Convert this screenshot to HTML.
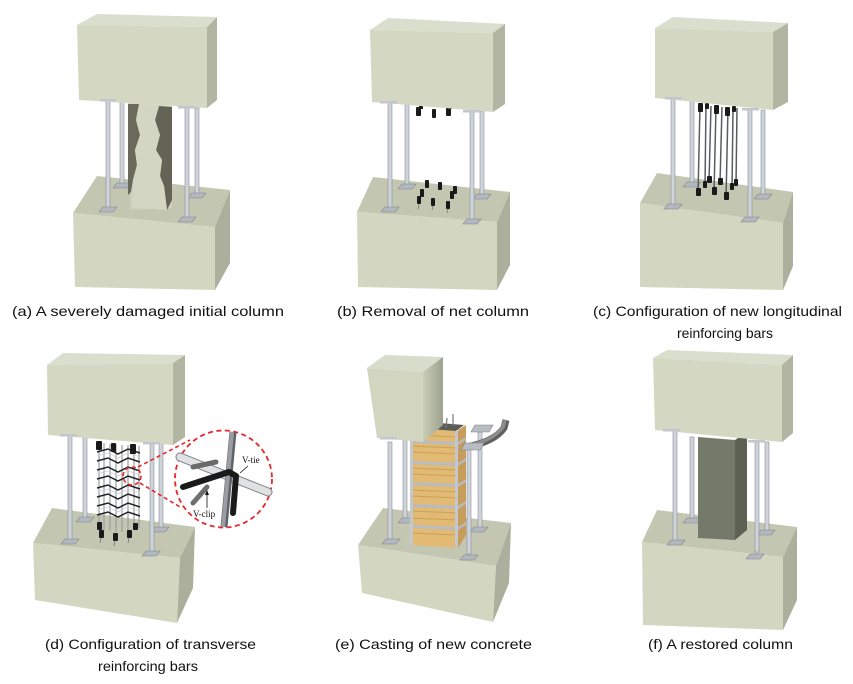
<!DOCTYPE html>
<html><head><meta charset="utf-8"><style>
html,body{margin:0;padding:0;background:#fff;}
svg{display:block;}
text{font-family:"Liberation Sans",Arial,sans-serif;}
</style></head><body>
<svg width="853" height="684" viewBox="0 0 853 684" xmlns="http://www.w3.org/2000/svg">
<defs>
<g id="pl"><polygon points="-9,3 -5,-2 9,-2 5,3" fill="#b3b7bf" stroke="#7d8189" stroke-width="0.6"/></g>
<linearGradient id="cyl" x1="0" y1="0" x2="1" y2="0"><stop offset="0" stop-color="#c9cdb8"/><stop offset="1" stop-color="#9da290"/></linearGradient>
</defs>
<rect width="853" height="684" fill="#fff"/>

<!-- ================= PANEL A ================= -->
<polygon points="73,213 97,176 230,190 215,227" fill="#c3c7b1"/>
<polygon points="73,213 215,227 215,290 75,287" fill="#d3d7c2"/>
<polygon points="215,227 230,190 230,263 215,290" fill="#abaf9b"/>
<rect x="120" y="102" width="4" height="82" fill="#cfd3da" stroke="#8b8f97" stroke-width="0.6"/>
<use href="#pl" x="122" y="185"/>
<rect x="195" y="108" width="4" height="86" fill="#cfd3da" stroke="#8b8f97" stroke-width="0.6"/>
<use href="#pl" x="197" y="195"/>
<polygon points="128,103 172,106 172,208 130,210" fill="#cdd1bc"/>
<polygon points="128,104 139,104 136,120 140,135 135,150 137,165 133,180 131,192 128,195" fill="#6a6a5c"/>
<polygon points="159,106 172,107 172,200 167,210 164,186 160,176 162,160 156,150 160,135 155,120" fill="#646456"/>
<polygon points="139,104 159,106 155,120 160,135 156,150 162,160 160,176 164,186 167,210 132,208 133,180 137,165 135,150 140,135 136,120" fill="#d2d6c2"/>
<rect x="106" y="100" width="4" height="108" fill="#cfd3da" stroke="#8b8f97" stroke-width="0.6"/>
<use href="#pl" x="108" y="209"/>
<rect x="185" y="108" width="4" height="110" fill="#cfd3da" stroke="#8b8f97" stroke-width="0.6"/>
<use href="#pl" x="187" y="219"/>
<polygon points="77,25 97,14 217,17 207,27" fill="#dadecd"/>
<polygon points="77,25 207,27 207,108 79,100" fill="#d4d8c3"/>
<polygon points="207,27 217,17 217,100 207,108" fill="#b1b5a1"/>
<rect x="100" y="99" width="16" height="2.5" fill="#c2c6ce"/>
<rect x="178" y="106" width="17" height="2.5" fill="#c2c6ce"/>

<!-- ================= PANEL B ================= -->
<polygon points="357,212 373,177 510,192 497,222" fill="#c3c7b1"/>
<polygon points="357,212 497,222 497,290 358,287" fill="#d3d7c2"/>
<polygon points="497,222 510,192 510,265 497,290" fill="#abaf9b"/>
<rect x="405" y="104" width="4" height="81" fill="#cfd3da" stroke="#8b8f97" stroke-width="0.6"/>
<use href="#pl" x="407" y="186"/>
<rect x="480" y="111" width="4" height="84" fill="#cfd3da" stroke="#8b8f97" stroke-width="0.6"/>
<use href="#pl" x="482" y="196"/>
<g fill="#1a1a1a">
<rect x="425" y="180" width="4" height="8" rx="1"/>
<rect x="438" y="182" width="4" height="8" rx="1"/>
<rect x="453" y="186" width="4" height="8" rx="1"/>
<rect x="420" y="189" width="4" height="8" rx="1"/>
<rect x="450" y="191" width="4" height="8" rx="1"/>
<rect x="417" y="196" width="4" height="8" rx="1"/>
<rect x="431" y="198" width="4" height="8" rx="1"/>
<rect x="446" y="201" width="4" height="8" rx="1"/>
</g>
<g stroke="#777" stroke-width="0.8">
<line x1="419" y1="204" x2="418" y2="209"/><line x1="433" y1="206" x2="432" y2="210"/><line x1="448" y1="209" x2="447" y2="213"/>
</g>
<g fill="#1a1a1a">
<rect x="416" y="107" width="5" height="9" rx="1"/><rect x="419" y="106" width="4" height="3"/>
<rect x="432" y="109" width="4" height="9" rx="1"/>
<rect x="446" y="107" width="5" height="9" rx="1"/><rect x="448" y="106" width="4" height="3"/>
</g>
<rect x="388" y="102" width="4" height="106" fill="#cfd3da" stroke="#8b8f97" stroke-width="0.6"/>
<use href="#pl" x="390" y="209"/>
<rect x="470" y="111" width="4" height="109" fill="#cfd3da" stroke="#8b8f97" stroke-width="0.6"/>
<use href="#pl" x="472" y="221"/>
<polygon points="370,30 388,18 505,24 493,33" fill="#dadecd"/>
<polygon points="370,30 493,33 493,112 372,102" fill="#d4d8c3"/>
<polygon points="493,33 505,24 505,104 493,112" fill="#b1b5a1"/>
<rect x="380" y="101" width="17" height="2.5" fill="#c2c6ce"/>
<rect x="463" y="110" width="17" height="2.5" fill="#c2c6ce"/>

<!-- ================= PANEL C ================= -->
<polygon points="640,203 657,173 793,192 783,223" fill="#c3c7b1"/>
<polygon points="640,203 783,223 783,290 640,287" fill="#d3d7c2"/>
<polygon points="783,223 793,192 793,266 783,290" fill="#abaf9b"/>
<rect x="690" y="100" width="4" height="83" fill="#cfd3da" stroke="#8b8f97" stroke-width="0.6"/>
<use href="#pl" x="692" y="184"/>
<rect x="761" y="110" width="4" height="85" fill="#cfd3da" stroke="#8b8f97" stroke-width="0.6"/>
<use href="#pl" x="763" y="196"/>
<g stroke="#5a5d60" stroke-width="1.5">
<line x1="700" y1="104" x2="698" y2="196"/>
<line x1="706" y1="104" x2="705" y2="188"/>
<line x1="711" y1="106" x2="709" y2="182"/>
<line x1="716" y1="107" x2="714" y2="194"/>
<line x1="722" y1="107" x2="720" y2="183"/>
<line x1="728" y1="108" x2="726" y2="199"/>
<line x1="733" y1="109" x2="732" y2="190"/>
<line x1="737" y1="108" x2="736" y2="186"/>
</g>
<g fill="#1a1a1a">
<rect x="698" y="103" width="5" height="9" rx="1"/>
<rect x="705" y="103" width="4" height="6" rx="1"/>
<rect x="714" y="105" width="5" height="9" rx="1"/>
<rect x="725" y="107" width="5" height="9" rx="1"/>
<rect x="732" y="106" width="4" height="6" rx="1"/>
<rect x="696" y="188" width="5" height="8" rx="1"/>
<rect x="703" y="181" width="4" height="7" rx="1"/>
<rect x="707" y="176" width="5" height="7" rx="1"/>
<rect x="712" y="187" width="5" height="8" rx="1"/>
<rect x="718" y="178" width="5" height="7" rx="1"/>
<rect x="724" y="192" width="5" height="8" rx="1"/>
<rect x="730" y="183" width="4" height="7" rx="1"/>
<rect x="734" y="179" width="4" height="7" rx="1"/>
</g>
<rect x="671" y="98" width="4" height="107" fill="#cfd3da" stroke="#8b8f97" stroke-width="0.6"/>
<use href="#pl" x="673" y="206"/>
<rect x="748" y="110" width="4" height="108" fill="#cfd3da" stroke="#8b8f97" stroke-width="0.6"/>
<use href="#pl" x="750" y="219"/>
<polygon points="655,28 673,17 788,23 773,32" fill="#dadecd"/>
<polygon points="655,28 773,32 773,110 655,98" fill="#d4d8c3"/>
<polygon points="773,32 788,23 788,102 773,110" fill="#b1b5a1"/>
<rect x="665" y="97" width="17" height="2.5" fill="#c2c6ce"/>
<rect x="742" y="108" width="17" height="2.5" fill="#c2c6ce"/>

<!-- ================= PANEL D ================= -->
<polygon points="33,543 52,508 195,527 180,558" fill="#c3c7b1"/>
<polygon points="33,543 180,558 177,623 35,600" fill="#d3d7c2"/>
<polygon points="180,558 195,527 193,588 177,623" fill="#abaf9b"/>
<rect x="83" y="437" width="4" height="81" fill="#cfd3da" stroke="#8b8f97" stroke-width="0.6"/>
<use href="#pl" x="85" y="519"/>
<rect x="159" y="443" width="4" height="85" fill="#cfd3da" stroke="#8b8f97" stroke-width="0.6"/>
<use href="#pl" x="160" y="529"/>
<g stroke="#9a9ca0" stroke-width="1.2">
<line x1="99" y1="442" x2="99" y2="528"/><line x1="104" y1="443" x2="104" y2="530"/>
<line x1="110" y1="444" x2="110" y2="531"/><line x1="116" y1="444" x2="116" y2="532"/>
<line x1="122" y1="445" x2="122" y2="532"/><line x1="128" y1="445" x2="128" y2="531"/>
<line x1="134" y1="446" x2="134" y2="530"/><line x1="139" y1="446" x2="139" y2="528"/>
</g>
<g stroke="#222" stroke-width="1.5" fill="none">
<polyline points="97,452 108,449 118,454 128,449 140,453"/>
<polyline points="97,461 108,458 118,463 128,458 140,462"/>
<polyline points="97,470 108,467 118,472 128,467 140,471"/>
<polyline points="97,479 108,476 118,481 128,476 140,480"/>
<polyline points="97,488 108,485 118,490 128,485 140,489"/>
<polyline points="97,497 108,494 118,499 128,494 140,498"/>
<polyline points="97,506 108,503 118,508 128,503 140,507"/>
<polyline points="97,515 108,512 118,517 128,512 140,516"/>
</g>
<g stroke="#cfd1d4" stroke-width="0.8" fill="none">
<polyline points="97,456 108,453 118,458 128,453 140,457"/>
<polyline points="97,474 108,471 118,476 128,471 140,475"/>
<polyline points="97,492 108,489 118,494 128,489 140,493"/>
<polyline points="97,510 108,507 118,512 128,507 140,511"/>
</g>
<g fill="#1a1a1a">
<rect x="96" y="441" width="6" height="9" rx="1"/>
<rect x="111" y="443" width="5" height="9" rx="1"/>
<rect x="130" y="444" width="6" height="10" rx="1"/>
<rect x="97" y="522" width="5" height="8" rx="1"/>
<rect x="99" y="530" width="5" height="8" rx="1"/>
<rect x="113" y="533" width="5" height="8" rx="1"/>
<rect x="127" y="530" width="5" height="8" rx="1"/>
<rect x="133" y="523" width="5" height="7" rx="1"/>
</g>
<g stroke="#777" stroke-width="0.8">
<line x1="101" y1="538" x2="100" y2="543"/><line x1="115" y1="541" x2="114" y2="546"/><line x1="129" y1="538" x2="128" y2="543"/>
</g>
<rect x="68" y="435" width="4" height="105" fill="#cfd3da" stroke="#8b8f97" stroke-width="0.6"/>
<use href="#pl" x="70" y="541"/>
<rect x="150" y="443" width="4" height="109" fill="#cfd3da" stroke="#8b8f97" stroke-width="0.6"/>
<use href="#pl" x="151" y="553"/>
<polygon points="47,365 63,353 185,355 173,363" fill="#dadecd"/>
<polygon points="47,365 173,363 173,445 48,435" fill="#d4d8c3"/>
<polygon points="173,363 185,355 185,437 173,445" fill="#b1b5a1"/>
<rect x="60" y="434" width="17" height="2.5" fill="#c2c6ce"/>
<rect x="143" y="442" width="17" height="2.5" fill="#c2c6ce"/>
<circle cx="132" cy="476" r="9" fill="none" stroke="#e8262b" stroke-width="1.6" stroke-dasharray="4,3"/>
<line x1="138" y1="467" x2="190" y2="440" stroke="#e8262b" stroke-width="1.6" stroke-dasharray="4,3"/>
<line x1="140" y1="483" x2="180" y2="507" stroke="#e8262b" stroke-width="1.6" stroke-dasharray="4,3"/>
<circle cx="223.5" cy="479" r="48.5" fill="#fff" stroke="#e8262b" stroke-width="1.8" stroke-dasharray="5,3.5"/>
<line x1="180" y1="457" x2="268" y2="492" stroke="#7f8286" stroke-width="9" stroke-linecap="round"/>
<line x1="180" y1="457" x2="268" y2="492" stroke="#dfe1e3" stroke-width="7" stroke-linecap="round"/>
<line x1="193" y1="467" x2="216" y2="462" stroke="#6a6a6a" stroke-width="5" stroke-linecap="round"/>
<line x1="233" y1="432" x2="224" y2="527" stroke="#5f6266" stroke-width="7"/>
<line x1="232" y1="432" x2="223" y2="527" stroke="#9a9da1" stroke-width="4"/>
<line x1="193" y1="503" x2="207" y2="487" stroke="#6f6f6f" stroke-width="5" stroke-linecap="round"/>
<polyline points="183,487 229,472 236,476 233,513" fill="none" stroke="#1a1a1a" stroke-width="6" stroke-linecap="round" stroke-linejoin="round"/>
<line x1="207" y1="508" x2="207" y2="493" stroke="#111" stroke-width="0.8"/>
<polygon points="205,495 207,490 209,495" fill="#111"/>
<line x1="248" y1="466" x2="240" y2="473" stroke="#111" stroke-width="0.8"/>
<text x="242" y="463" font-size="9" fill="#111" style="font-family:'Liberation Serif',serif">V-tie</text>
<text x="193" y="517" font-size="9" fill="#111" style="font-family:'Liberation Serif',serif">V-clip</text>

<!-- ================= PANEL E ================= -->
<polygon points="358,545 383,508 511,523 496,566" fill="#c3c7b1"/>
<polygon points="358,545 496,566 493,622 362,593" fill="#d3d7c2"/>
<polygon points="496,566 511,523 509,583 493,622" fill="#abaf9b"/>
<rect x="403" y="440" width="4" height="78" fill="#cfd3da" stroke="#8b8f97" stroke-width="0.6"/>
<use href="#pl" x="407" y="520"/>
<rect x="478" y="432" width="4" height="96" fill="#cfd3da" stroke="#8b8f97" stroke-width="0.6"/>
<use href="#pl" x="479" y="529"/>
<polygon points="458,430 466,425 466,535 458,548" fill="#c79d5c"/>
<polygon points="410,428 458,431 458,548 412,545" fill="#e2ba74"/>
<g stroke="#caa05a" stroke-width="1">
<line x1="411" y1="435" x2="458" y2="437"/><line x1="411" y1="446" x2="458" y2="448"/>
<line x1="411" y1="452" x2="458" y2="454"/><line x1="411" y1="468" x2="458" y2="470"/>
<line x1="411" y1="474" x2="458" y2="476"/><line x1="411" y1="490" x2="458" y2="492"/>
<line x1="411" y1="496" x2="458" y2="498"/><line x1="411" y1="511" x2="458" y2="513"/>
<line x1="411" y1="518" x2="458" y2="520"/><line x1="411" y1="533" x2="458" y2="535"/>
</g>
<g fill="#b8bbc1">
<polygon points="410,440 458,442 458,445 410,443"/>
<polygon points="410,461 458,463 458,466 410,464"/>
<polygon points="410,482 458,484 458,487 410,485"/>
<polygon points="411,504 458,506 458,509 411,507"/>
<polygon points="411,525 458,527 458,530 411,528"/>
<polygon points="458,442 466,437 466,440 458,445"/>
<polygon points="458,463 466,458 466,461 458,466"/>
<polygon points="458,484 466,479 466,482 458,487"/>
<polygon points="458,506 466,501 466,504 458,509"/>
<polygon points="458,527 466,522 466,525 458,530"/>
</g>
<rect x="410" y="428" width="3" height="118" fill="#c4c7cc"/>
<rect x="455" y="431" width="3" height="117" fill="#c4c7cc"/>
<polygon points="414,428 427,422 464,425 456,431" fill="#5a5c58"/>
<g stroke="#777" stroke-width="1.2">
<line x1="446" y1="428" x2="447" y2="418"/><line x1="453" y1="426" x2="453" y2="414"/><line x1="435" y1="425" x2="435" y2="417"/>
</g>
<path d="M466,447 Q494,442 504,428 L506,420" fill="none" stroke="#5f5f5f" stroke-width="7"/>
<path d="M466,446 Q493,441 503,427 L505,420" fill="none" stroke="#8d8d8d" stroke-width="3.5"/>
<polygon points="475,425 493,425 489,432 471,432" fill="#b8bcc3" stroke="#7d8189" stroke-width="0.6"/>
<polygon points="465,443 484,443 480,450 461,450" fill="#b8bcc3" stroke="#7d8189" stroke-width="0.6"/>
<rect x="388" y="442" width="4" height="97" fill="#cfd3da" stroke="#8b8f97" stroke-width="0.6"/>
<use href="#pl" x="391" y="541"/>
<rect x="467" y="450" width="4" height="104" fill="#cfd3da" stroke="#8b8f97" stroke-width="0.6"/>
<use href="#pl" x="469" y="557"/>
<polygon points="367,368 385,355 443,357 423,372" fill="#d8dccb"/>
<polygon points="423,372 443,357 443,425 423,442" fill="url(#cyl)"/>
<polygon points="367,368 423,372 423,442 377,438" fill="#d2d6c1"/>
<rect x="380" y="437" width="17" height="2.5" fill="#c2c6ce"/>

<!-- ================= PANEL F ================= -->
<polygon points="642,542 657,510 797,527 783,557" fill="#c3c7b1"/>
<polygon points="642,542 783,557 783,630 643,625" fill="#d3d7c2"/>
<polygon points="783,557 797,527 797,600 783,630" fill="#abaf9b"/>
<rect x="690" y="437" width="4" height="81" fill="#cfd3da" stroke="#8b8f97" stroke-width="0.6"/>
<use href="#pl" x="692" y="520"/>
<rect x="765" y="442" width="4" height="90" fill="#cfd3da" stroke="#8b8f97" stroke-width="0.6"/>
<use href="#pl" x="766" y="532"/>
<polygon points="698,437 735,440 735,540 698,538" fill="#747a6a"/>
<polygon points="735,440 747,432 747,530 735,540" fill="#5c6154"/>
<rect x="673" y="430" width="4" height="111" fill="#cfd3da" stroke="#8b8f97" stroke-width="0.6"/>
<use href="#pl" x="676" y="542"/>
<rect x="755" y="442" width="4" height="110" fill="#cfd3da" stroke="#8b8f97" stroke-width="0.6"/>
<use href="#pl" x="755" y="556"/>
<polygon points="653,358 667,350 793,355 782,365" fill="#dadecd"/>
<polygon points="653,358 782,365 782,442 655,430" fill="#d4d8c3"/>
<polygon points="782,365 793,355 793,433 782,442" fill="#b1b5a1"/>
<rect x="663" y="429" width="17" height="2.5" fill="#c2c6ce"/>
<rect x="748" y="440" width="17" height="2.5" fill="#c2c6ce"/>

<!-- ================= CAPTIONS ================= -->
<g font-size="14" fill="#111">
<text x="12" y="316" textLength="272" lengthAdjust="spacingAndGlyphs">(a) A severely damaged initial column</text>
<text x="337" y="316" textLength="192" lengthAdjust="spacingAndGlyphs">(b) Removal of net column</text>
<text x="593" y="316" textLength="249" lengthAdjust="spacingAndGlyphs">(c) Configuration of new longitudinal</text>
<text x="677" y="338" textLength="96" lengthAdjust="spacingAndGlyphs">reinforcing bars</text>
<text x="45" y="649" textLength="211" lengthAdjust="spacingAndGlyphs">(d) Configuration of transverse</text>
<text x="98" y="671" textLength="100" lengthAdjust="spacingAndGlyphs">reinforcing bars</text>
<text x="335" y="649" textLength="197" lengthAdjust="spacingAndGlyphs">(e) Casting of new concrete</text>
<text x="648" y="649" textLength="145" lengthAdjust="spacingAndGlyphs">(f) A restored column</text>
</g>
</svg>
</body></html>
